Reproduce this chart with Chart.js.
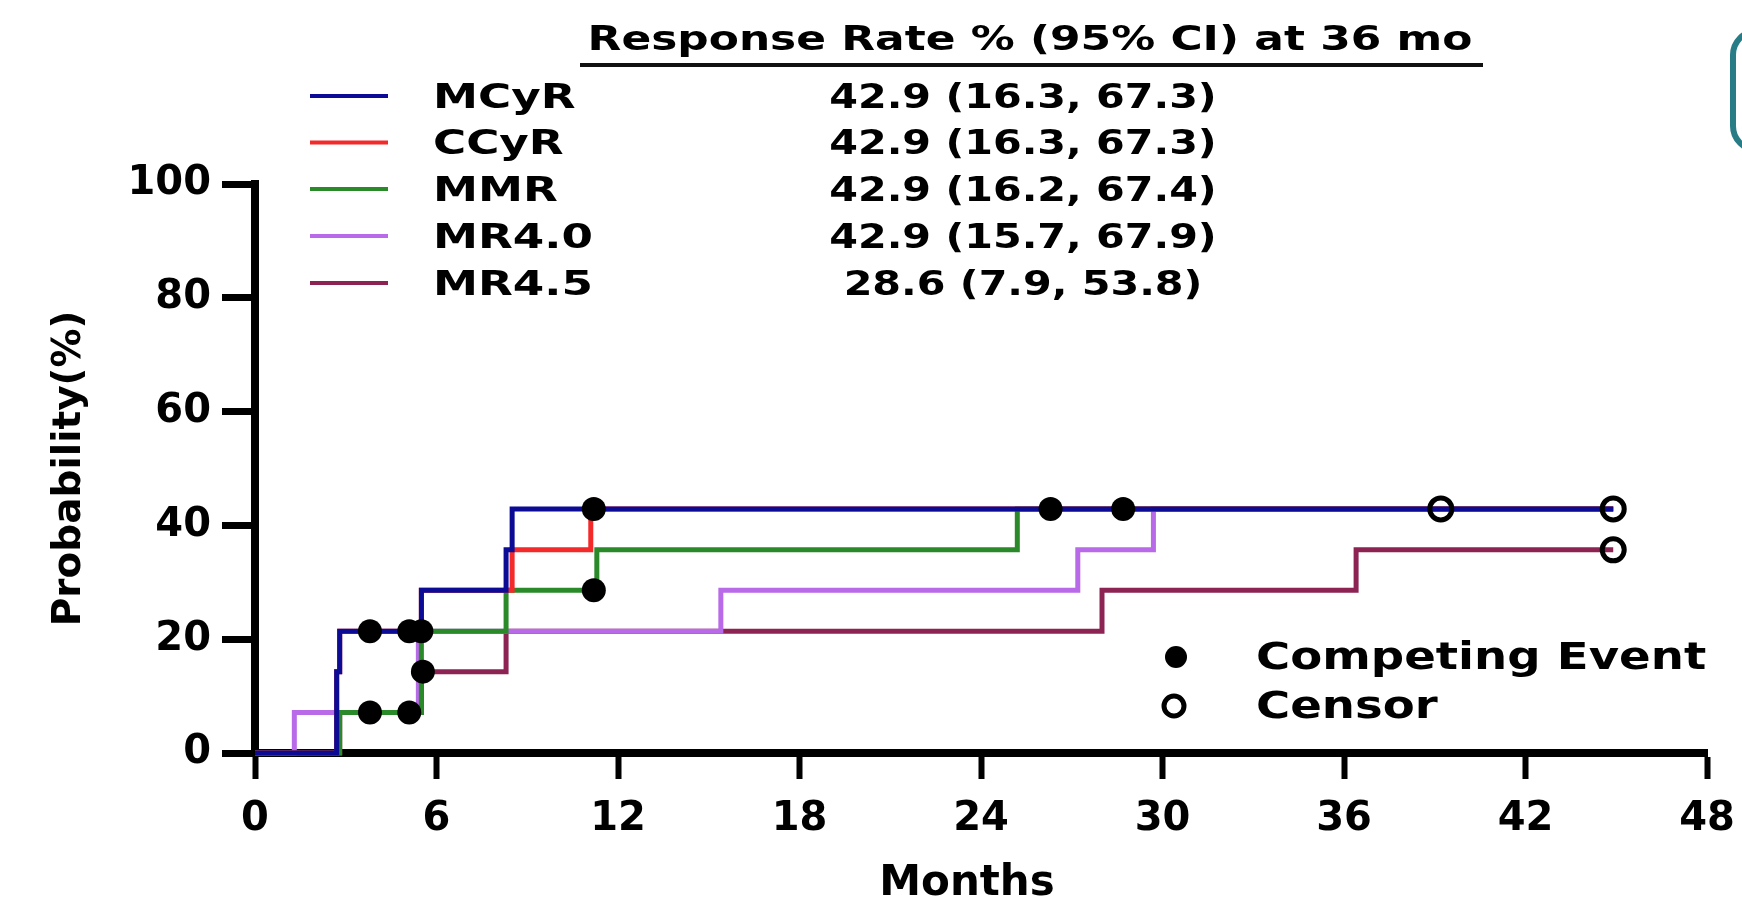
<!DOCTYPE html>
<html>
<head>
<meta charset="utf-8">
<script src="https://cdn.jsdelivr.net/npm/chart.js@4.4.1/dist/chart.umd.min.js"></script>
<style>
  body { margin: 0; background: #fff; }
  #wrap { width: 1742px; height: 904px; }
</style>
</head>
<body>
<div id="wrap"><canvas id="cifChart"></canvas></div>
<script>
// Cumulative incidence steps (months, %)
const mcyrX = [0, 2.7, 2.8, 5.5, 8.3, 8.5, 44.9];
const mcyrY = [0, 14.3, 21.4, 28.6, 35.7, 42.9, 42.9];
const ccyrX = [0, 2.7, 2.8, 5.5, 8.5, 11.1, 44.9];
const ccyrY = [0, 14.3, 21.4, 28.6, 35.7, 42.9, 42.9];
const mmrX = [0, 2.8, 5.5, 8.3, 11.3, 25.2, 44.9];
const mmrY = [0, 7.1, 21.4, 28.6, 35.7, 42.9, 42.9];
const mr40X = [0, 1.3, 5.4, 15.4, 27.2, 29.7, 44.9];
const mr40Y = [0, 7.1, 21.4, 28.6, 35.7, 42.9, 42.9];
const mr45X = [0, 2.8, 5.5, 8.3, 28.0, 36.4, 44.9];
const mr45Y = [0, 7.1, 14.3, 21.4, 28.6, 35.7, 35.7];

// competing events (filled) and censored (open)
const compX = [3.8, 5.1, 5.5, 3.8, 5.1, 5.55, 11.2, 11.2, 26.3, 28.7];
const compY = [21.4, 21.4, 21.4, 7.1, 7.1, 14.3, 28.6, 42.9, 42.9, 42.9];
const censX = [39.2, 44.9, 44.9];
const censY = [42.9, 42.9, 35.7];

const seriesNames = ['MCyR', 'CCyR', 'MMR', 'MR4.0', 'MR4.5'];
const seriesColors = ['#0b0b96', '#f42a2a', '#2a8a2a', '#b86ae8', '#8c2352'];
const rateText = ['42.9 (16.3, 67.3)', '42.9 (16.3, 67.3)', '42.9 (16.2, 67.4)', '42.9 (15.7, 67.9)', '28.6 (7.9, 53.8)'];
const tableTitle = 'Response Rate % (95% CI) at 36 mo';

const xTicks = [0, 6, 12, 18, 24, 30, 36, 42, 48];
const yTicks = [0, 20, 40, 60, 80, 100];

const FONT = '"DejaVu Sans"';

function pts(xs, ys) {
  return xs.map((x, i) => ({ x: x, y: ys[i] }));
}

const allX = [mcyrX, ccyrX, mmrX, mr40X, mr45X];
const allY = [mcyrY, ccyrY, mmrY, mr40Y, mr45Y];

// 'before' = horizontal first, then the vertical jump at the event time
const stepSets = seriesNames.map((name, i) => ({
  type: 'line',
  label: name,
  data: pts(allX[i], allY[i]),
  stepped: 'before',
  borderColor: seriesColors[i],
  borderWidth: 5,
  pointRadius: 0,
  fill: false,
  clip: false,
  order: i
}));

function drawText(ctx, text, x, y, size, align, sx) {
  ctx.save();
  ctx.font = 'bold ' + size + 'px ' + FONT;
  ctx.fillStyle = '#000';
  ctx.textAlign = align;
  ctx.textBaseline = 'middle';
  ctx.translate(x, y);
  ctx.scale(sx, 1);
  ctx.fillText(text, 0, 0);
  ctx.restore();
}

// header table, series legend, marker legend, teal box
const annotations = {
  id: 'annotations',
  afterDraw(chart) {
    const ctx = chart.ctx;
    const rows = [97, 143.5, 190, 237, 284];

    drawText(ctx, tableTitle, 1030, 41, 33, 'center', 1.33);
    ctx.save();
    ctx.strokeStyle = '#111';
    ctx.lineWidth = 4;
    ctx.beginPath();
    ctx.moveTo(580, 65);
    ctx.lineTo(1483, 65);
    ctx.stroke();
    ctx.restore();

    seriesNames.forEach((name, i) => {
      ctx.save();
      ctx.strokeStyle = seriesColors[i];
      ctx.lineWidth = 4;
      ctx.beginPath();
      ctx.moveTo(310, rows[i] - 1);
      ctx.lineTo(388, rows[i] - 1);
      ctx.stroke();
      ctx.restore();
      drawText(ctx, name, 433, rows[i] + 2, 34, 'left', 1.33);
      drawText(ctx, rateText[i], 1023, rows[i] + 2, 33, 'center', 1.25);
    });

    // marker legend
    ctx.save();
    ctx.fillStyle = '#000';
    ctx.beginPath();
    ctx.arc(1176, 657, 11, 0, Math.PI * 2);
    ctx.fill();
    ctx.strokeStyle = '#000';
    ctx.lineWidth = 5;
    ctx.beginPath();
    ctx.arc(1174, 706, 10, 0, Math.PI * 2);
    ctx.stroke();
    ctx.restore();
    drawText(ctx, 'Competing Event', 1256, 659, 37, 'left', 1.26);
    drawText(ctx, 'Censor', 1256, 708, 37, 'left', 1.26);

    // axis title under the months axis
    drawText(ctx, 'Months', 967, 884, 42, 'center', 1.0);

    // teal box at the top right edge
    ctx.save();
    ctx.strokeStyle = '#277c86';
    ctx.lineWidth = 6;
    ctx.beginPath();
    ctx.roundRect(1733, 31, 120, 119, 24);
    ctx.stroke();
    ctx.restore();
  }
};

const ctx = document.getElementById('cifChart').getContext('2d');

const cifChart = new Chart(ctx, {
  data: {
    datasets: stepSets.concat([
      {
        type: 'scatter',
        label: 'Competing Event',
        data: pts(compX, compY),
        pointRadius: 12,
        pointBackgroundColor: '#000',
        pointBorderColor: '#000',
        pointBorderWidth: 0,
        clip: false,
        order: -2
      },
      {
        type: 'scatter',
        label: 'Censor',
        data: pts(censX, censY),
        pointRadius: 11,
        pointBackgroundColor: 'rgba(0,0,0,0)',
        pointBorderColor: '#000',
        pointBorderWidth: 5,
        clip: false,
        order: -1
      }
    ])
  },
  options: {
    responsive: true,
    maintainAspectRatio: false,
    animation: false,
    layout: { padding: { top: 184, right: 35, left: 0, bottom: 0 } },
    plugins: {
      legend: { display: false },
      tooltip: { enabled: false }
    },
    scales: {
      x: {
        type: 'linear',
        min: 0,
        max: 48,
        afterBuildTicks: (axis) => { axis.ticks = xTicks.map(v => ({ value: v })); },
        afterFit: (axis) => {
          axis.height = 151;
          axis.paddingLeft = 0;
          axis.paddingRight = 0;
        },
        ticks: {
          color: '#000',
          padding: 17,
          maxRotation: 0,
          autoSkip: false,
          font: { family: FONT, weight: 'bold', size: 40 }
        },
        grid: {
          drawOnChartArea: false,
          color: '#000',
          tickLength: 26,
          tickWidth: 6
        },
        border: { display: true, color: '#000', width: 8 },
        title: { display: false }
      },
      y: {
        type: 'linear',
        min: 0,
        max: 100,
        afterBuildTicks: (axis) => { axis.ticks = yTicks.map(v => ({ value: v })); },
        afterFit: (axis) => {
          axis.width = 255;
          axis.paddingTop = 0;
          axis.paddingBottom = 0;
        },
        ticks: {
          color: '#000',
          padding: 11,
          font: { family: FONT, weight: 'bold', size: 40 }
        },
        grid: {
          drawOnChartArea: false,
          color: '#000',
          tickLength: 33,
          tickWidth: 7
        },
        border: { display: true, color: '#000', width: 8 },
        title: {
          display: true,
          text: 'Probability(%)',
          color: '#000',
          font: { family: FONT, weight: 'bold', size: 39, lineHeight: 1 },
          padding: { top: 50, bottom: 0 }
        }
      }
    }
  },
  plugins: [annotations]
});
</script>
</body>
</html>
